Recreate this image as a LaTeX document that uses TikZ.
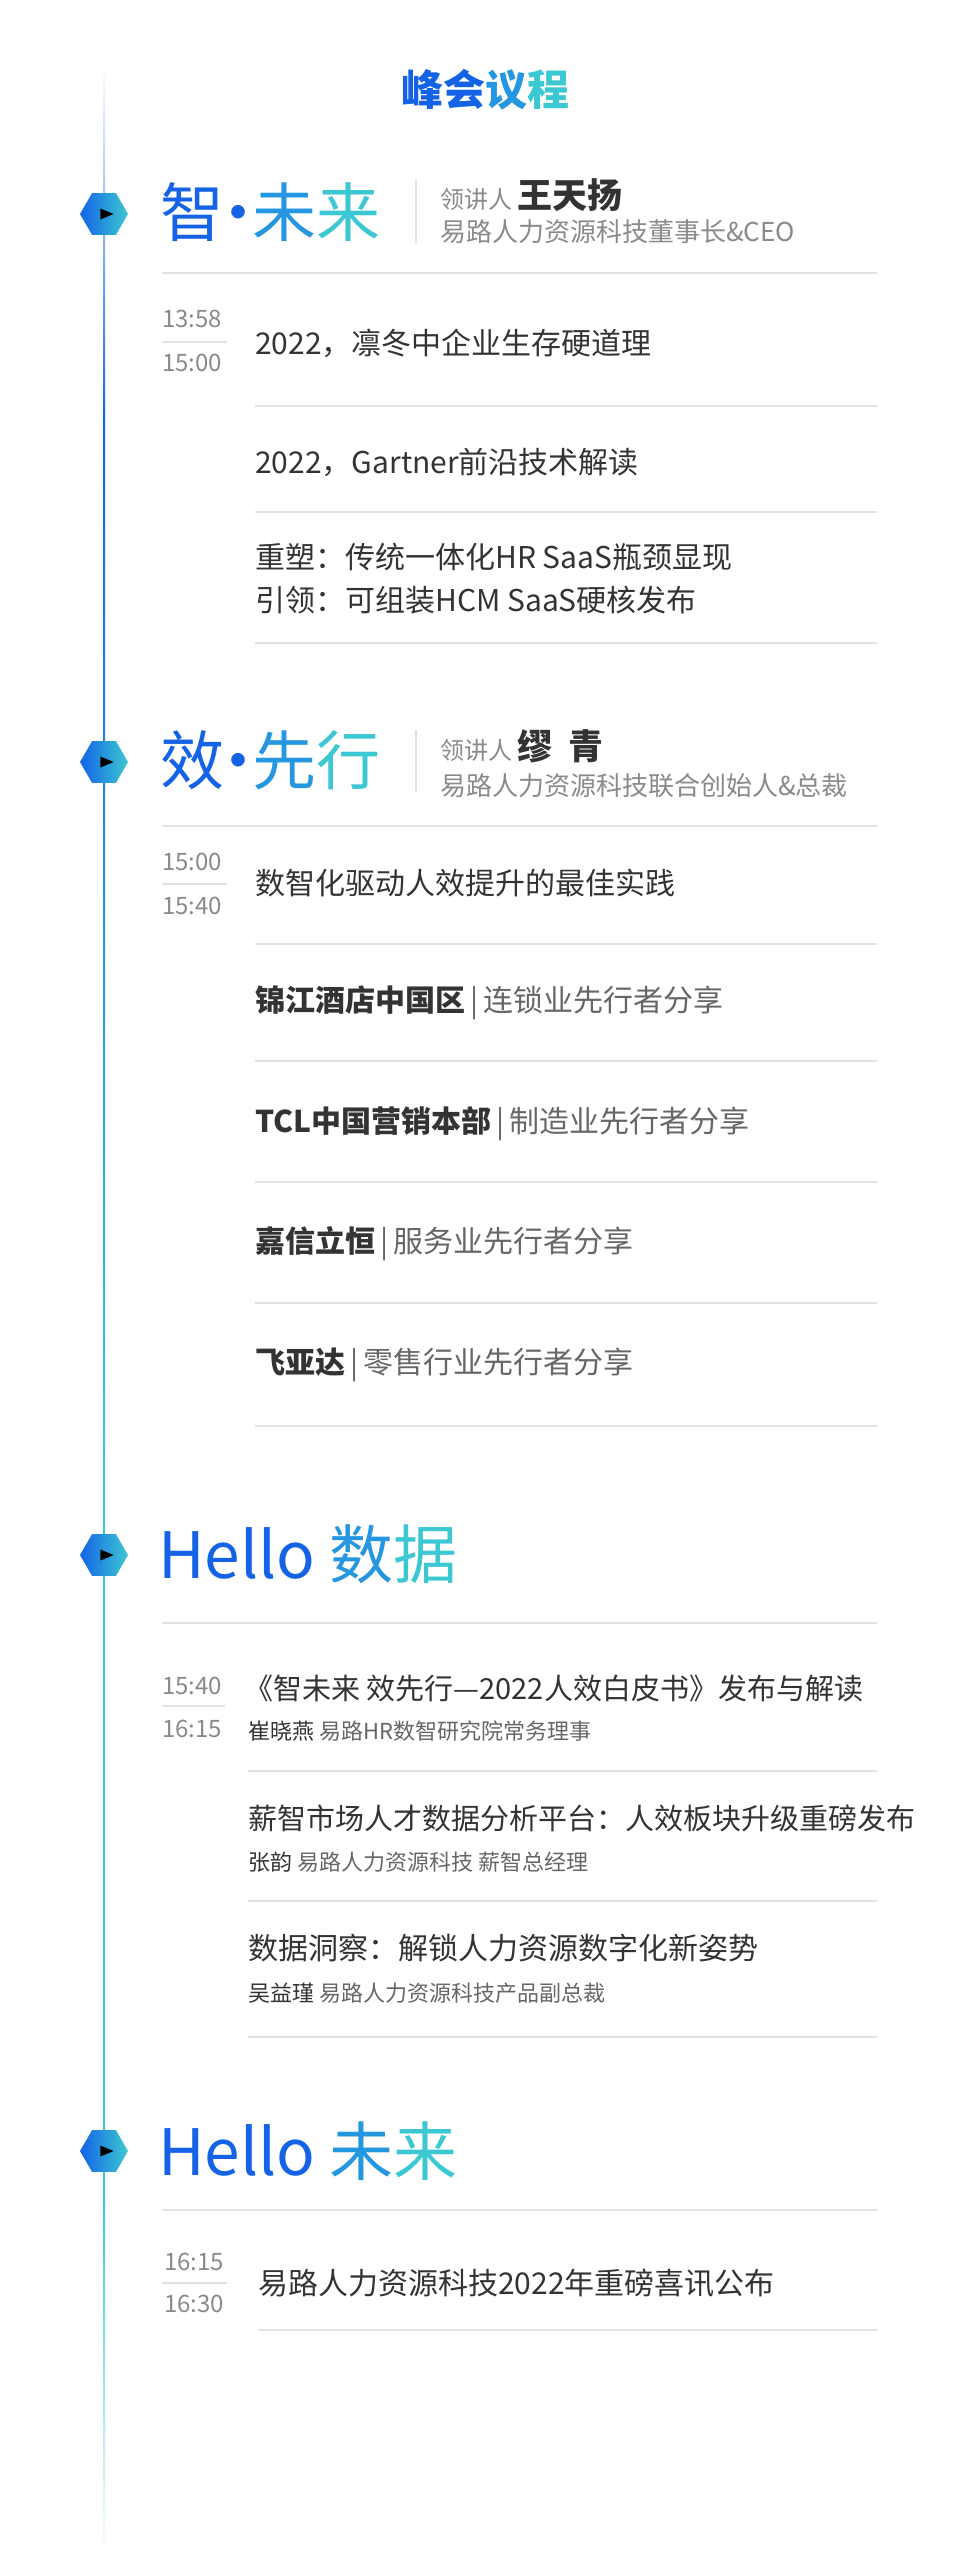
\documentclass[tikz,border=0pt]{standalone}
\usepackage{fontspec}
\setmainfont{Noto Sans CJK SC}
\usetikzlibrary{shapes.geometric}
\definecolor{hblue}{HTML}{1463E6}
\definecolor{hmid}{HTML}{2596E0}
\definecolor{hcyan}{HTML}{3CC8D2}
\definecolor{txt}{HTML}{333333}
\definecolor{subg}{HTML}{666666}
\definecolor{tgray}{HTML}{8A8A8A}
\definecolor{sep}{HTML}{E2E2E2}
\newcommand{\fs}[1]{\fontsize{#1}{#1}\selectfont}
\newcommand{\mdot}{\kern-0.28em·\kern-0.28em}
\begin{document}
\begin{tikzpicture}[x=1pt, y=1pt,
  hexa/.style={regular polygon, regular polygon sides=6, minimum size=48pt, inner sep=0pt, left color=hblue, right color=hcyan, draw=none},
  play/.style={isosceles triangle, fill=black, minimum width=11pt, minimum height=9pt, inner sep=0pt},
  head/.style={anchor=west, inner sep=0pt, font=\fs{64}},
  item/.style={anchor=west, inner sep=0pt, text=txt, font=\fs{30}},
  note/.style={anchor=west, inner sep=0pt, text=subg, font=\fs{22}},
  time/.style={anchor=west, inner sep=0pt, text=tgray, font=\fs{24}},
  rule/.style={draw=sep, line width=1.5pt}]
\useasboundingbox (0,0) rectangle (960,-2560);
\fill[white] (0,0) rectangle (960,-2560);

% Zeitleiste
\shade[top color=white, bottom color=hblue] (103,-66) rectangle (105,-420);
\shade[top color=hblue, bottom color=hcyan] (103,-420) rectangle (105,-1450);
\fill[hcyan] (103,-1450) rectangle (105,-2200);
\shade[top color=hcyan, bottom color=white] (103,-2200) rectangle (105,-2560);

% Titel
\node[font=\fs{42}\bfseries] (titel) at (485,-90) {\color{hblue}峰会\color{hmid}议\color{hcyan}程};

% Abschnitt 1
\node[hexa] (hexA) at (104,-214) {};
\node[play] at (hexA) {};
\node[head] (kopfA) at (160,-212) {\color{hblue}智\mdot\color{hmid}未\color{hcyan}来};
\draw[sep, line width=1.5pt] (416,-180) -- (416,-243);
\node[anchor=west, inner sep=0pt, text=tgray, font=\fs{24}] (rolleA) at (440,-195) {领讲人\ \color{txt}\fs{35}\bfseries 王天扬};
\node[anchor=west, inner sep=0pt, text=tgray, font=\fs{26}] (firmaA) at (440,-232) {易路人力资源科技董事长\&CEO};
\draw[rule] (162,-273) -- (877,-273);
\node[time] (zeitA1) at (162,-319) {13:58};
\draw[rule] (162,-342) -- (227,-342);
\node[time] (zeitA2) at (162,-363) {15:00};
\node[item] (a1) at (255,-343) {2022，凛冬中企业生存硬道理};
\draw[rule] (255,-406) -- (877,-406);
\node[item] (a2) at (255,-462) {2022，Gartner前沿技术解读};
\draw[rule] (255,-512) -- (877,-512);
\node[item] (a3) at (255,-557) {重塑：传统一体化HR SaaS瓶颈显现};
\node[item] (a4) at (255,-600) {引领：可组装HCM SaaS硬核发布};
\draw[rule] (255,-643) -- (877,-643);

% Abschnitt 2
\node[hexa] (hexB) at (104,-762) {};
\node[play] at (hexB) {};
\node[head] (kopfB) at (160,-760) {\color{hblue}效\mdot\color{hmid}先\color{hcyan}行};
\draw[sep, line width=1.5pt] (416,-730) -- (416,-792);
\node[anchor=west, inner sep=0pt, text=tgray, font=\fs{24}] (rolleB) at (440,-746) {领讲人\ \color{txt}\fs{35}\bfseries 缪\ \ 青};
\node[anchor=west, inner sep=0pt, text=tgray, font=\fs{26}] (firmaB) at (440,-786) {易路人力资源科技联合创始人\&总裁};
\draw[rule] (162,-826) -- (877,-826);
\node[time] (zeitB1) at (162,-862) {15:00};
\draw[rule] (162,-884) -- (227,-884);
\node[time] (zeitB2) at (162,-906) {15:40};
\node[item] (b1) at (255,-883) {数智化驱动人效提升的最佳实践};
\draw[rule] (255,-944) -- (877,-944);
\node[item] (b2) at (255,-1003) {\bfseries 锦江酒店中国区\mdseries\color{subg}\,|\,连锁业先行者分享};
\draw[rule] (255,-1061) -- (877,-1061);
\node[item] (b3) at (255,-1124) {\bfseries TCL中国营销本部\mdseries\color{subg}\,|\,制造业先行者分享};
\draw[rule] (255,-1182) -- (877,-1182);
\node[item] (b4) at (255,-1244) {\bfseries 嘉信立恒\mdseries\color{subg}\,|\,服务业先行者分享};
\draw[rule] (255,-1303) -- (877,-1303);
\node[item] (b5) at (255,-1365) {\bfseries 飞亚达\mdseries\color{subg}\,|\,零售行业先行者分享};
\draw[rule] (255,-1426) -- (877,-1426);

% Abschnitt 3
\node[hexa] (hexC) at (104,-1555) {};
\node[play] at (hexC) {};
\node[head] (kopfC) at (158,-1554) {\color{hblue}Hello \color{hmid}数\color{hcyan}据};
\draw[rule] (162,-1623) -- (877,-1623);
\node[time] (zeitC1) at (162,-1686) {15:40};
\draw[rule] (162,-1706) -- (225,-1706);
\node[time] (zeitC2) at (162,-1729) {16:15};
\node[item, font=\fs{29}] (c1) at (244,-1688) {《智未来 效先行—2022人效白皮书》发布与解读};
\node[note] (c1n) at (248,-1731) {{\color{txt}崔晓燕} 易路HR数智研究院常务理事};
\draw[rule] (248,-1771) -- (877,-1771);
\node[item, font=\fs{29}] (c2) at (248,-1818) {薪智市场人才数据分析平台：人效板块升级重磅发布};
\node[note] (c2n) at (248,-1862) {{\color{txt}张韵} 易路人力资源科技 薪智总经理};
\draw[rule] (248,-1901) -- (877,-1901);
\node[item] (c3) at (248,-1948) {数据洞察：解锁人力资源数字化新姿势};
\node[note] (c3n) at (248,-1993) {{\color{txt}吴益瑾} 易路人力资源科技产品副总裁};
\draw[rule] (248,-2037) -- (877,-2037);

% Abschnitt 4
\node[hexa] (hexD) at (104,-2151) {};
\node[play] at (hexD) {};
\node[head] (kopfD) at (158,-2151) {\color{hblue}Hello \color{hmid}未\color{hcyan}来};
\draw[rule] (162,-2210) -- (877,-2210);
\node[time] (zeitD1) at (164,-2262) {16:15};
\draw[rule] (162,-2283) -- (227,-2283);
\node[time] (zeitD2) at (164,-2304) {16:30};
\node[item] (d1) at (258,-2283) {易路人力资源科技2022年重磅喜讯公布};
\draw[rule] (258,-2330) -- (877,-2330);
\end{tikzpicture}
\end{document}
